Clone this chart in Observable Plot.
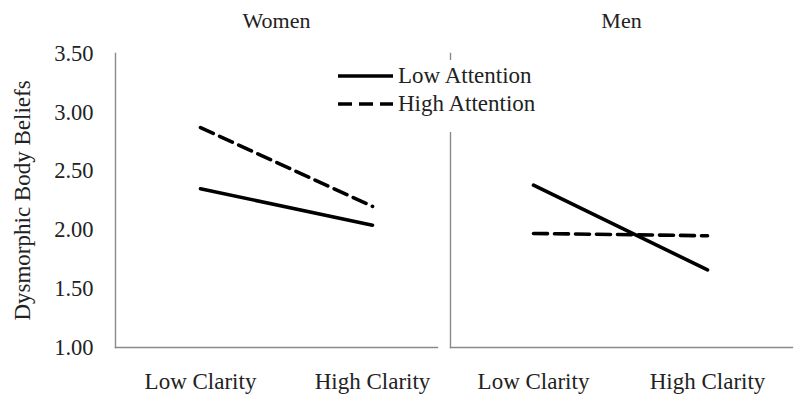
<!DOCTYPE html>
<html>
<head>
<meta charset="utf-8">
<script src="https://cdn.jsdelivr.net/npm/d3@7"></script>
<script src="https://cdn.jsdelivr.net/npm/@observablehq/plot@0.6"></script>
<style>
  html, body { margin: 0; padding: 0; background: #fff; }
  #chart { position: relative; width: 800px; height: 412px; overflow: hidden; font-family: "Liberation Serif", "Times New Roman", serif; color: #222; }
  #chart > svg, #chart > figure { position: absolute; top: 0; }
  #legend { position: absolute; left: 334px; top: 60px; width: 216px; height: 72px; background: #fff; z-index: 5; }
  .row { position: absolute; left: 0; height: 26px; display: flex; align-items: center; font-size: 23px; color: #222; white-space: nowrap; }
  .row svg { margin-right: 4px; }
</style>
</head>
<body>
<div id="chart"><div id="legend"></div></div>
<script>
// ---- data ----
const panels = ["Women", "Men"];
const clarity = ["Low Clarity", "High Clarity"];
const attention = ["Low Attention", "High Attention"];
const womenLowAttention = [2.35, 2.04];
const womenHighAttention = [2.87, 2.20];
const menLowAttention = [2.38, 1.66];
const menHighAttention = [1.97, 1.95];
const yTicks = [1.00, 1.50, 2.00, 2.50, 3.00, 3.50];
const yLabel = "Dysmorphic Body Beliefs";

const rows = (vals) => clarity.map((c, i) => ({clarity: c, value: vals[i]}));

const font = "'Liberation Serif', 'Times New Roman', serif";
const axisGrey = "#8a8a8a";
const dash = "14,7";

function panel({title, low, high, width, marginLeft, marginRight, insetLeft, insetRight, showY}) {
  const marks = [
    Plot.frame({anchor: "left", stroke: axisGrey, strokeWidth: 1.4}),
    Plot.frame({anchor: "bottom", stroke: axisGrey, strokeWidth: 1.4}),
    Plot.axisX({tickSize: 0, tickPadding: 25, label: null, fontSize: 23, fill: "#222"}),
    Plot.line(rows(low), {x: "clarity", y: "value", stroke: "#000", strokeWidth: 3.6}),
    Plot.line(rows(high), {x: "clarity", y: "value", stroke: "#000", strokeWidth: 3.6, strokeDasharray: dash}),
    Plot.text([title], {text: d => d, frameAnchor: "top", lineAnchor: "middle", dy: -33, fontSize: 22, fill: "#222"})
  ];
  if (showY) {
    marks.push(Plot.axisY({ticks: yTicks, tickFormat: d3.format(".2f"), tickSize: 0, tickPadding: 22, label: null, fontSize: 22.5, fill: "#222"}));
    marks.push(Plot.text([yLabel], {text: d => d, frameAnchor: "left", textAnchor: "middle", lineAnchor: "middle", dx: -93, rotate: -90, fontSize: 23, fill: "#222"}));
  }
  return Plot.plot({
    width, height: 412,
    marginLeft, marginRight, marginTop: 53, marginBottom: 65,
    style: {fontFamily: font, fontSize: "22px", color: "#222", background: "transparent", overflow: "visible"},
    x: {type: "point", domain: clarity, padding: 0, insetLeft, insetRight},
    y: {domain: [1, 3.5], axis: showY ? undefined : null},
    marks
  });
}

const chart = document.getElementById("chart");
const women = panel({title: panels[0], low: womenLowAttention, high: womenHighAttention,
  width: 447, marginLeft: 115, marginRight: 10, insetLeft: 85, insetRight: 65, showY: true});
women.style.left = "0px";
chart.appendChild(women);

const men = panel({title: panels[1], low: menLowAttention, high: menHighAttention,
  width: 360, marginLeft: 10, marginRight: 8, insetLeft: 83, insetRight: 85, showY: false});
men.style.left = "440px";
chart.appendChild(men);

// legend
const legend = document.getElementById("legend");
attention.forEach((a, i) => {
  const row = document.createElement("div");
  row.className = "row";
  row.style.top = (3 + i * 28) + "px";
  const s = d3.create("svg").attr("width", 60).attr("height", 10);
  s.append("line").attr("x1", 4).attr("x2", 59).attr("y1", 5).attr("y2", 5)
    .attr("stroke", "#000").attr("stroke-width", 3.6)
    .attr("stroke-dasharray", i === 0 ? null : dash);
  row.appendChild(s.node());
  const t = document.createElement("span");
  t.textContent = a;
  row.appendChild(t);
  legend.appendChild(row);
});
</script>
</body>
</html>
